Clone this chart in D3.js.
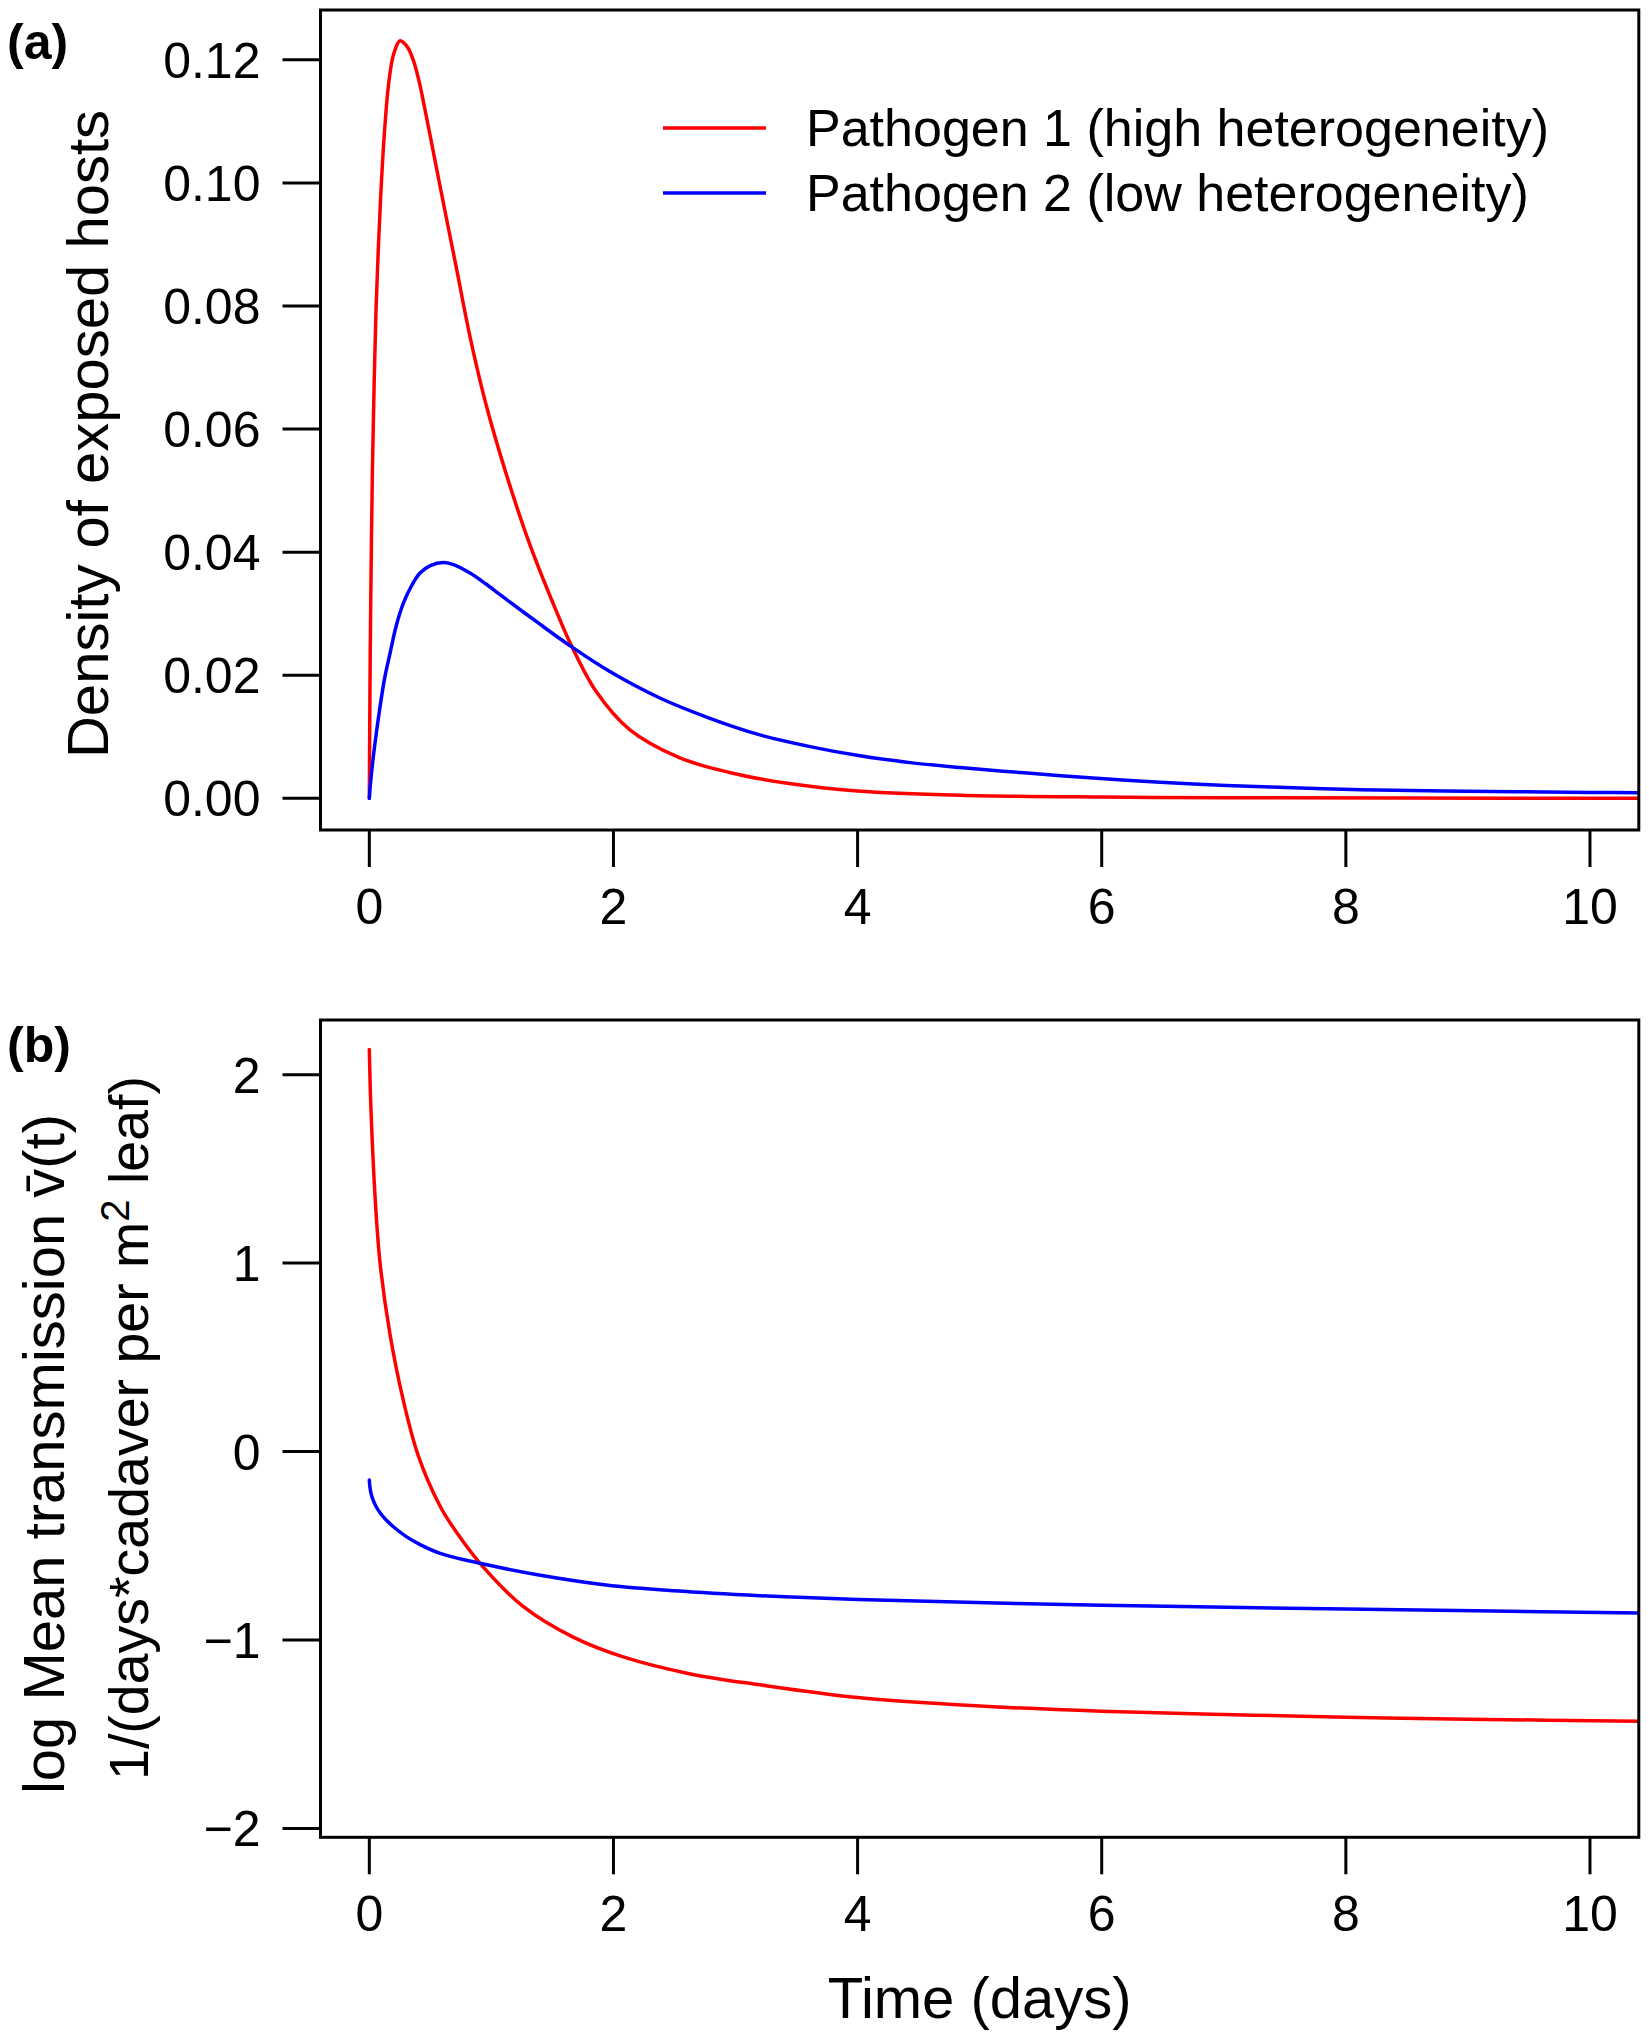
<!DOCTYPE html>
<head>
  <meta charset="utf-8">
  <script src="https://cdnjs.cloudflare.com/ajax/libs/d3/7.8.5/d3.min.js"></script>
</head>

<style>
body {
  margin: 0;
  background-color: #ffffff;
}
text {
  font-family: "Liberation Sans", Arial, sans-serif;
  fill: #000;
}
</style>

<body>
  <svg id='chart' width='1649' height='2040'></svg>
</body>

<script>

// ---- data ----
// panel (a): density of exposed hosts
var a_red_t = [0, 0.005, 0.011, 0.025, 0.04, 0.055, 0.074, 0.093, 0.11, 0.129, 0.156, 0.197, 0.252, 0.311, 0.361, 0.41, 0.45, 0.497, 0.607, 0.716, 0.825, 0.96, 1.12, 1.31, 1.53, 1.658, 1.86, 2.13, 2.54, 2.95, 3.44, 4, 4.84, 6, 7, 8.5, 10.5];
var a_red_v = [0, 0.017, 0.031, 0.053, 0.068, 0.0795, 0.0895, 0.0978, 0.104, 0.1096, 0.1157, 0.1208, 0.1231, 0.1221, 0.1199, 0.1163, 0.1125, 0.1078, 0.0967, 0.0859, 0.075, 0.0637, 0.0528, 0.0415, 0.0305, 0.0247, 0.0173, 0.0112, 0.0066, 0.0042, 0.0024, 0.0012, 0.0005, 0.0002, 0.0001, 0.00004, 0];

var a_blue_t = [0, 0.01, 0.033, 0.06, 0.088, 0.125, 0.17, 0.22, 0.279, 0.345, 0.415, 0.5, 0.607, 0.7, 0.825, 0.95, 1.09, 1.37, 1.658, 1.97, 2.38, 2.79, 3.2, 3.61, 4.02, 4.43, 4.84, 5.39, 5.93, 6.48, 7.02, 7.57, 8.12, 9, 10, 10.5];
var a_blue_v = [0, 0.0025, 0.0068, 0.011, 0.0149, 0.0195, 0.0236, 0.028, 0.0317, 0.0345, 0.0366, 0.0378, 0.0383, 0.0379, 0.0366, 0.0349, 0.0328, 0.0287, 0.0246, 0.0206, 0.0163, 0.013, 0.0103, 0.0084, 0.0069, 0.0058, 0.005, 0.0041, 0.0033, 0.0026, 0.0021, 0.0017, 0.0014, 0.00115, 0.00095, 0.0009];

// panel (b): log mean transmission
var b_red_t = [0, 0.008, 0.02, 0.047, 0.088, 0.17, 0.279, 0.4, 0.58, 0.716, 0.907, 1.26, 1.67, 2.08, 2.63, 3.2, 4, 5, 6, 7, 8, 9, 10.5];
var b_red_v = [2.134, 1.918, 1.706, 1.352, 0.999, 0.62, 0.27, -0.02, -0.29, -0.43, -0.593, -0.822, -0.985, -1.09, -1.18, -1.238, -1.305, -1.35, -1.378, -1.395, -1.41, -1.42, -1.432];

var b_blue_t = [0, 0.005, 0.015, 0.033, 0.06, 0.088, 0.14, 0.197, 0.3, 0.42, 0.58, 0.907, 1.39, 1.94, 2.5, 3.2, 4, 6, 8, 10.5];
var b_blue_v = [-0.151, -0.19, -0.225, -0.26, -0.297, -0.325, -0.365, -0.399, -0.45, -0.495, -0.54, -0.593, -0.655, -0.708, -0.739, -0.765, -0.785, -0.815, -0.836, -0.857];

var x_ticks = [0, 2, 4, 6, 8, 10];
var a_ticks = [0, 0.02, 0.04, 0.06, 0.08, 0.10, 0.12];
var b_ticks = [-2, -1, 0, 1, 2];
var legend_labels = ['Pathogen 1 (high heterogeneity)', 'Pathogen 2 (low heterogeneity)'];
var colours = ['#ff0000', '#0000ff'];

function zip(t, v) { return t.map(function(d, i){ return [d, v[i]]; }); }

var svg = d3.select('#chart');

var left = 320.5, right = 1638.8;
var x = d3.scaleLinear().domain([-0.4, 10.4]).range([left, right]);

var panels = [
  { id: 'a', top: 10, bottom: 830, dom: [-0.00515, 0.1281], ticks: a_ticks,
    fmt: d3.format('.2f'), series: [zip(a_red_t, a_red_v), zip(a_blue_t, a_blue_v)], lab_y: 59 },
  { id: 'b', top: 1020, bottom: 1837.3, dom: [-2.047, 2.29], ticks: b_ticks,
    fmt: function(d){ return d < 0 ? '\u2212' + Math.abs(d) : '' + d; },
    series: [zip(b_red_t, b_red_v), zip(b_blue_t, b_blue_v)], lab_y: 1062 }
];

panels.forEach(function(p) {
  var y = d3.scaleLinear().domain(p.dom).range([p.bottom, p.top]);
  var g = svg.append('g');

  g.append('clipPath').attr('id', 'clip-' + p.id)
    .append('rect')
      .attr('x', left).attr('y', p.top)
      .attr('width', right - left).attr('height', p.bottom - p.top);

  var line = d3.line()
      .x(function(d){ return x(d[0]); })
      .y(function(d){ return y(d[1]); })
      .curve(d3.curveCatmullRom.alpha(0.5));

  g.append('g').attr('clip-path', 'url(#clip-' + p.id + ')')
    .selectAll('path')
    .data(p.series)
    .enter().append('path')
      .attr('d', line)
      .attr('fill', 'none')
      .attr('stroke', function(d, i){ return colours[i]; })
      .attr('stroke-width', 3.5)
      .attr('stroke-linejoin', 'round')
      .attr('stroke-linecap', 'round');

  // box
  g.append('rect')
    .attr('x', left).attr('y', p.top)
    .attr('width', right - left).attr('height', p.bottom - p.top)
    .attr('fill', 'none').attr('stroke', '#000').attr('stroke-width', 3);

  // x axis
  var xa = g.selectAll('.xt').data(x_ticks).enter().append('g')
    .attr('transform', function(d){ return 'translate(' + x(d) + ',' + p.bottom + ')'; });
  xa.append('line').attr('y1', 0).attr('y2', 37)
    .attr('stroke', '#000').attr('stroke-width', 3);
  xa.append('text').attr('y', 94).attr('text-anchor', 'middle')
    .style('font-size', '50px')
    .text(function(d){ return d; });

  // y axis
  var ya = g.selectAll('.yt').data(p.ticks).enter().append('g')
    .attr('transform', function(d){ return 'translate(' + left + ',' + y(d) + ')'; });
  ya.append('line').attr('x1', 0).attr('x2', -38)
    .attr('stroke', '#000').attr('stroke-width', 3);
  ya.append('text').attr('x', -60).attr('y', 18).attr('text-anchor', 'end')
    .style('font-size', '50px')
    .text(p.fmt);

  // panel tag
  g.append('text').attr('x', 7).attr('y', p.lab_y)
    .style('font-size', '50px').style('font-weight', 'bold')
    .text('(' + p.id + ')');
});

// axis titles
svg.append('text')
  .attr('transform', 'translate(108,434) rotate(-90)')
  .attr('text-anchor', 'middle')
  .style('font-size', '58px')
  .text('Density of exposed hosts');

var yl1 = svg.append('text')
  .attr('transform', 'translate(64,1454) rotate(-90)')
  .attr('text-anchor', 'middle')
  .style('font-size', '58px');
yl1.append('tspan').text('log Mean transmission ');
yl1.append('tspan').text('v\u0304');
yl1.append('tspan').text('(t)');

var yl2 = svg.append('text')
  .attr('transform', 'translate(148,1428) rotate(-90)')
  .attr('text-anchor', 'middle')
  .style('font-size', '55.5px');
yl2.append('tspan').text('1/(days*cadaver per m');
yl2.append('tspan').attr('dy', -19).style('font-size', '40px').text('2');
yl2.append('tspan').attr('dy', 19).text(' leaf)');

svg.append('text')
  .attr('x', (left + right) / 2).attr('y', 2018)
  .attr('text-anchor', 'middle')
  .style('font-size', '58px')
  .text('Time (days)');

// legend
var leg = svg.append('g').selectAll('g')
  .data(legend_labels).enter().append('g')
  .attr('transform', function(d, i){ return 'translate(663,' + (128 + i * 65) + ')'; });
leg.append('line').attr('x1', 0).attr('x2', 103)
  .attr('stroke', function(d, i){ return colours[i]; })
  .attr('stroke-width', 3.5);
leg.append('text').attr('x', 143).attr('y', 18)
  .style('font-size', '52px')
  .text(function(d){ return d; });

</script>
